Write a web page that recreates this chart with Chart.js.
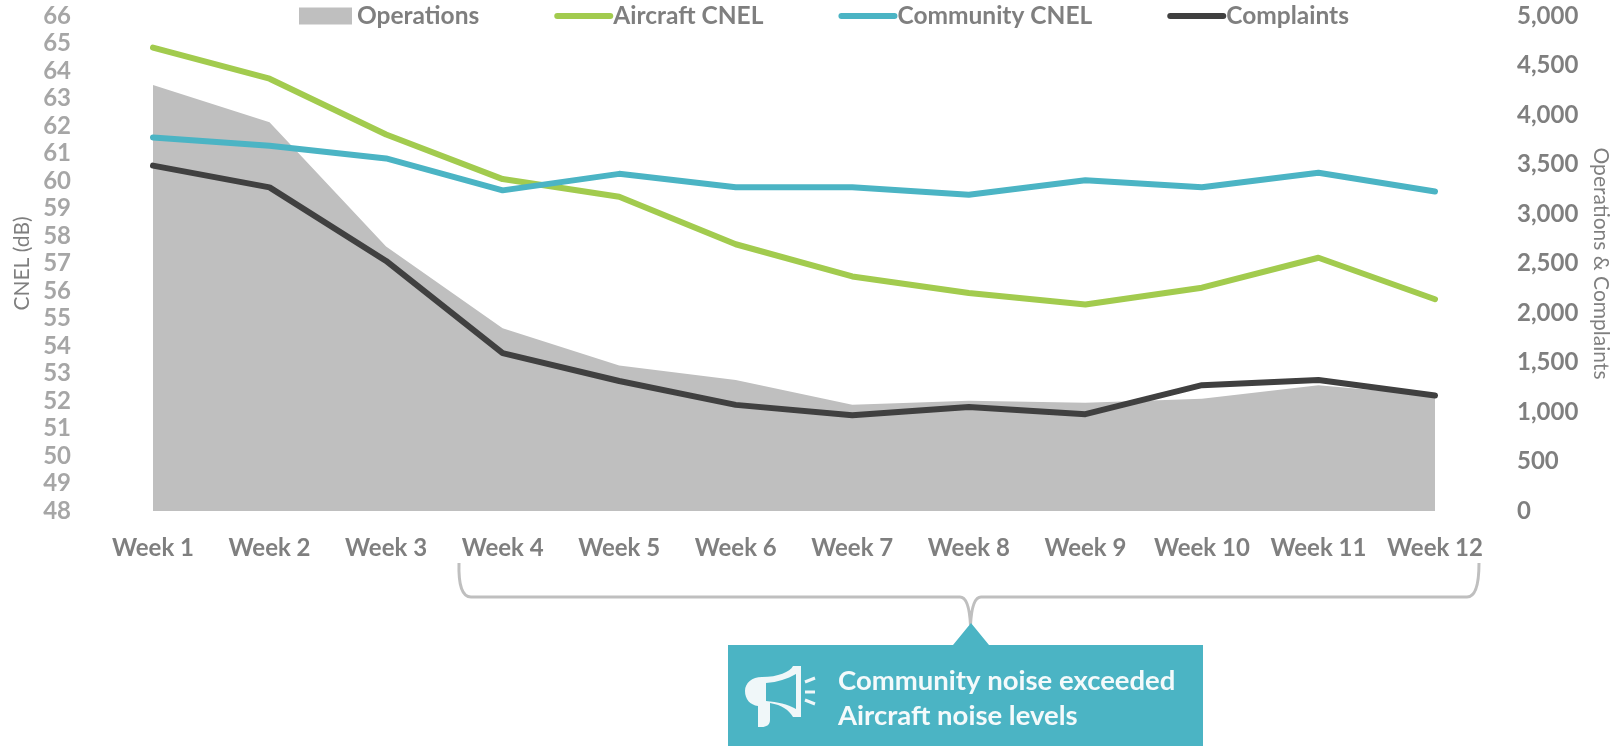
<!DOCTYPE html>
<html>
<head>
<meta charset="utf-8">
<title>CNEL, operations and complaints by week</title>
<script src="https://cdn.jsdelivr.net/npm/chart.js@4"></script>
<style>
    html, body { margin: 0; padding: 0; background: #fff; }
    canvas { display: block; }
</style>
</head>
<body>
<canvas id="noiseChart" width="1623" height="746"></canvas>
<script>
// Data
const weeks = ["Week 1", "Week 2", "Week 3", "Week 4", "Week 5", "Week 6", "Week 7", "Week 8", "Week 9", "Week 10", "Week 11", "Week 12"];
const operations = [4304, 3927, 2672, 1846, 1470, 1323, 1072, 1114, 1093, 1135, 1271, 1166];
const aircraftCnel = [64.85, 63.72, 61.69, 60.07, 59.43, 57.7, 56.53, 55.93, 55.51, 56.12, 57.21, 55.7];
const communityCnel = [61.58, 61.28, 60.82, 59.66, 60.26, 59.77, 59.77, 59.5, 60.03, 59.77, 60.3, 59.62];
const complaints = [3489, 3269, 2526, 1595, 1313, 1072, 967, 1051, 978, 1271, 1323, 1166];
const calloutLines = ["Community noise exceeded", "Aircraft noise levels"];

const FONT = "Lato, 'Open Sans', sans-serif";
const GREY_AREA = "#bfbfbf";
const GREEN = "#a2cb4e";
const TEAL = "#4bb4c4";
const DARK = "#404040";
const TICK_DARK = "#7f7f7f";
const TICK_LIGHT = "#a6a6a6";

// Legend sits inside the plot area, so it is drawn by hand
const legendPlugin = {
    id: "topLegend",
    afterDraw(chart) {
        const ctx = chart.ctx;
        let x = 299;
        const y = 16;
        ctx.save();
        ctx.font = `bold 24.5px ${FONT}`;
        ctx.textBaseline = "middle";
        ctx.textAlign = "left";
        chart.data.datasets.forEach(ds => {
            if (ds.fill) {
                ctx.fillStyle = ds.backgroundColor;
                ctx.fillRect(x, y - 8.5, 53, 17);
            } else {
                ctx.strokeStyle = ds.borderColor;
                ctx.lineWidth = 6;
                ctx.lineCap = "round";
                ctx.beginPath();
                ctx.moveTo(x + 2, y);
                ctx.lineTo(x + 55, y);
                ctx.stroke();
            }
            ctx.fillStyle = TICK_DARK;
            ctx.fillText(ds.label, x + 58, y);
            x += 58 + ctx.measureText(ds.label).width + 76;
        });
        ctx.restore();
    }
};

// Bracket under weeks 4-12 and the teal callout
const calloutPlugin = {
    id: "callout",
    afterDraw(chart) {
        const ctx = chart.ctx;
        ctx.save();

        ctx.strokeStyle = GREY_AREA;
        ctx.lineWidth = 3;
        ctx.stroke(new Path2D("M459 563 Q458 597 471 597 H960 Q969 597 970.5 625 Q972 597 981 597 H1467 Q1479 597 1479 563"));

        ctx.fillStyle = TEAL;
        ctx.fill(new Path2D("M728 645 H953 L971 623 L989 645 H1203 V746 H728 Z"));

        // megaphone
        ctx.fillStyle = "#f0f7f9";
        ctx.fill(new Path2D("M762 677 C778 677 790 672 793 666 H801 V717 H793 C789 710 782 705 770 703 V720 C770 725 766 727 762 727 H758 V706 C750 705 745 699 745 691 C745 683 752 677 762 677 Z"));
        ctx.fillStyle = TEAL;
        ctx.fill(new Path2D("M766 683 C778 682 787 679 796 674 V709 C787 704 778 702 766 701 Z"));
        ctx.strokeStyle = "#f0f7f9";
        ctx.lineWidth = 3;
        ctx.stroke(new Path2D("M805 682 L815 678 M805 692 H815 M805 700 L815 704"));

        ctx.fillStyle = "#f4fafb";
        ctx.font = `bold 27.5px ${FONT}`;
        ctx.textAlign = "left";
        ctx.textBaseline = "middle";
        ctx.fillText(calloutLines[0], 838, 681);
        ctx.fillText(calloutLines[1], 838, 716);
        ctx.restore();
    }
};

function createNoiseChart(canvasID) {
    const ctx = document.getElementById(canvasID).getContext("2d");

    const lineStyle = {
        borderWidth: 6,
        borderCapStyle: "round",
        borderJoinStyle: "round",
        pointRadius: 0,
        tension: 0,
        fill: false
    };

    return new Chart(ctx, {
        type: "line",
        data: {
            labels: weeks,
            datasets: [
                { label: "Operations", data: operations, yAxisID: "y1", order: 4, fill: "origin", backgroundColor: GREY_AREA, borderWidth: 0, pointRadius: 0, tension: 0 },
                { ...lineStyle, label: "Aircraft CNEL", data: aircraftCnel, yAxisID: "y", order: 3, borderColor: GREEN },
                { ...lineStyle, label: "Community CNEL", data: communityCnel, yAxisID: "y", order: 2, borderColor: TEAL },
                { ...lineStyle, label: "Complaints", data: complaints, yAxisID: "y1", order: 1, borderColor: DARK }
            ]
        },
        options: {
            responsive: false,
            animation: false,
            layout: { padding: { top: 16, left: 0, right: 0, bottom: 0 } },
            plugins: {
                legend: { display: false },
                tooltip: { enabled: false }
            },
            scales: {
                x: {
                    offset: false,
                    grid: { display: false },
                    border: { display: false },
                    ticks: {
                        autoSkip: false,
                        maxRotation: 0,
                        padding: 15,
                        color: TICK_DARK,
                        font: { family: FONT, size: 24, weight: "bold" }
                    },
                    afterFit: scale => { scale.height = 235; }
                },
                y: {
                    position: "left",
                    min: 48,
                    max: 66,
                    // tickLength instead of ticks.padding: padding would also push the plot top down
                    grid: { display: false, tickLength: 82 },
                    border: { display: false },
                    ticks: {
                        stepSize: 1,
                        autoSkip: false,
                        padding: 0,
                        color: TICK_LIGHT,
                        font: { family: FONT, size: 24, weight: "bold" }
                    },
                    title: {
                        display: true,
                        text: "CNEL (dB)",
                        color: TICK_DARK,
                        padding: { top: 10, bottom: 0 },
                        font: { family: FONT, size: 21 }
                    },
                    afterFit: scale => { scale.width = 153; }
                },
                y1: {
                    position: "right",
                    min: 0,
                    max: 5000,
                    grid: { display: false, tickLength: 82 },
                    border: { display: false },
                    ticks: {
                        stepSize: 500,
                        autoSkip: false,
                        padding: 0,
                        color: TICK_DARK,
                        font: { family: FONT, size: 24, weight: "bold" }
                    },
                    title: {
                        display: true,
                        text: "Operations & Complaints",
                        color: TICK_DARK,
                        padding: { top: 10, bottom: 0 },
                        font: { family: FONT, size: 21 }
                    },
                    afterFit: scale => { scale.width = 188; }
                }
            }
        },
        plugins: [legendPlugin, calloutPlugin]
    });
}

createNoiseChart("noiseChart");
</script>
</body>
</html>
